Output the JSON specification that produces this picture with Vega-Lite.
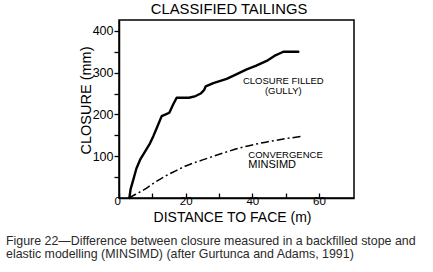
{
  "$schema": "https://vega.github.io/schema/vega-lite/v6.json",
  "width": 235,
  "height": 178,
  "autosize": {"type": "none"},
  "padding": {"left": 119, "top": 20, "right": 79, "bottom": 74},
  "background": "white",
  "config": {
    "view": {"stroke": "black", "strokeWidth": 1.5},
    "font": "Liberation Sans"
  },
  "title": {
    "text": ["Figure 22\u2014Difference between closure measured in a backfilled stope and", "elastic modelling (MINSIMD) (after Gurtunca and Adams, 1991)"],
    "orient": "bottom",
    "anchor": "start",
    "frame": "group",
    "dx": -113,
    "offset": 11,
    "font": "Liberation Sans",
    "fontSize": 12.4,
    "fontWeight": "normal",
    "color": "#2a2a2a",
    "lineHeight": 13
  },
  "datasets": {
    "closure": [
      {"x": 3.1, "y": 0}, {"x": 3.5, "y": 22}, {"x": 4.3, "y": 44}, {"x": 5.2, "y": 70},
      {"x": 6.3, "y": 91}, {"x": 7.8, "y": 111}, {"x": 9.3, "y": 131}, {"x": 10.3, "y": 148},
      {"x": 11.3, "y": 167}, {"x": 12.8, "y": 196}, {"x": 14.0, "y": 200}, {"x": 15.1, "y": 204},
      {"x": 16.2, "y": 223}, {"x": 17.3, "y": 240}, {"x": 21.0, "y": 240}, {"x": 23.0, "y": 244},
      {"x": 24.5, "y": 250}, {"x": 25.5, "y": 258}, {"x": 26.0, "y": 267}, {"x": 28.3, "y": 275},
      {"x": 32.3, "y": 285}, {"x": 35.5, "y": 297}, {"x": 38.3, "y": 308}, {"x": 41.0, "y": 316},
      {"x": 44.3, "y": 328}, {"x": 46.6, "y": 340}, {"x": 49.3, "y": 350}, {"x": 53.8, "y": 350}
    ],
    "convergence": [
      {"x": 3.0, "y": 0}, {"x": 5.0, "y": 9}, {"x": 7.8, "y": 21}, {"x": 10.5, "y": 36},
      {"x": 13.8, "y": 52}, {"x": 17.0, "y": 65}, {"x": 19.8, "y": 76}, {"x": 25.8, "y": 93},
      {"x": 31.8, "y": 109}, {"x": 37.3, "y": 122}, {"x": 44.3, "y": 134}, {"x": 50.0, "y": 142},
      {"x": 55.3, "y": 148}
    ],
    "curveLabels": [
      {"label": "CLOSURE FILLED", "x": 49.3, "y": 281},
      {"label": "(GULLY)", "x": 49.3, "y": 257}
    ],
    "convLabel": [
      {"label": "CONVERGENCE", "x": 38.8, "y": 104}
    ],
    "modelLabel": [
      {"label": "MINSIMD", "x": 38.8, "y": 78}
    ],
    "heading": [
      {"label": "CLASSIFIED TAILINGS", "x": 33, "y": 450}
    ]
  },
  "encoding": {
    "x": {
      "field": "x", "type": "quantitative",
      "scale": {"domain": [0, 70.5], "nice": false, "zero": false},
      "axis": {
        "values": [0, 10, 20, 30, 40, 50, 60],
        "labelExpr": "datum.value % 20 == 0 ? datum.label : ''",
        "title": "DISTANCE TO FACE (m)",
        "titleFont": "Liberation Sans", "titleFontSize": 14, "titleFontWeight": "normal",
        "titleColor": "black", "titleX": 113, "titleY": 23, "titleBaseline": "alphabetic",
        "domainColor": "black", "domainWidth": 1.5,
        "tickColor": "black", "tickWidth": 1.3, "tickSize": -5,
        "labelFont": "Liberation Sans", "labelFontSize": 11.5, "labelColor": "black",
        "labelPadding": 2,
        "labelOffset": {"condition": {"test": "datum.value == 0", "value": -5}, "value": 0},
        "grid": false
      }
    },
    "y": {
      "field": "y", "type": "quantitative",
      "scale": {"domain": [0, 426], "nice": false},
      "axis": {
        "values": [50, 100, 150, 200, 250, 300, 350, 400],
        "labelExpr": "datum.value % 100 == 0 ? datum.label : ''",
        "title": "CLOSURE (mm)",
        "titleFont": "Liberation Sans", "titleFontSize": 14.5, "titleFontWeight": "normal",
        "titleColor": "black", "titleX": -29, "titleY": 80, "titleBaseline": "alphabetic",
        "titleAngle": -90, "titleAlign": "center",
        "domainColor": "black", "domainWidth": 1.5,
        "tickColor": "black", "tickWidth": 1.3, "tickSize": 5,
        "labelFont": "Liberation Sans", "labelFontSize": 12.5, "labelColor": "black",
        "labelPadding": 1,
        "grid": false
      }
    }
  },
  "layer": [
    {
      "data": {"name": "closure"},
      "mark": {"type": "line", "color": "black", "strokeWidth": 2.4, "strokeJoin": "round", "strokeCap": "round"},
      "encoding": {"order": {"field": "x", "type": "quantitative"}}
    },
    {
      "data": {"name": "convergence"},
      "mark": {"type": "line", "color": "black", "strokeWidth": 1.5, "strokeDash": [8, 3, 2, 3], "interpolate": "monotone"},
      "encoding": {"order": {"field": "x", "type": "quantitative"}}
    },
    {
      "data": {"name": "curveLabels"},
      "mark": {"type": "text", "color": "black", "font": "Liberation Sans", "fontSize": 9.5, "align": "center", "baseline": "middle", "clip": false},
      "encoding": {"text": {"field": "label"}}
    },
    {
      "data": {"name": "convLabel"},
      "mark": {"type": "text", "color": "black", "font": "Liberation Sans", "fontSize": 9.5, "align": "left", "baseline": "middle", "clip": false},
      "encoding": {"text": {"field": "label"}}
    },
    {
      "data": {"name": "modelLabel"},
      "mark": {"type": "text", "color": "black", "font": "Liberation Sans", "fontSize": 11, "align": "left", "baseline": "middle", "clip": false},
      "encoding": {"text": {"field": "label"}}
    },
    {
      "data": {"name": "heading"},
      "mark": {"type": "text", "color": "black", "font": "Liberation Sans", "fontSize": 14.8, "align": "center", "baseline": "middle", "clip": false},
      "encoding": {"text": {"field": "label"}}
    }
  ]
}
